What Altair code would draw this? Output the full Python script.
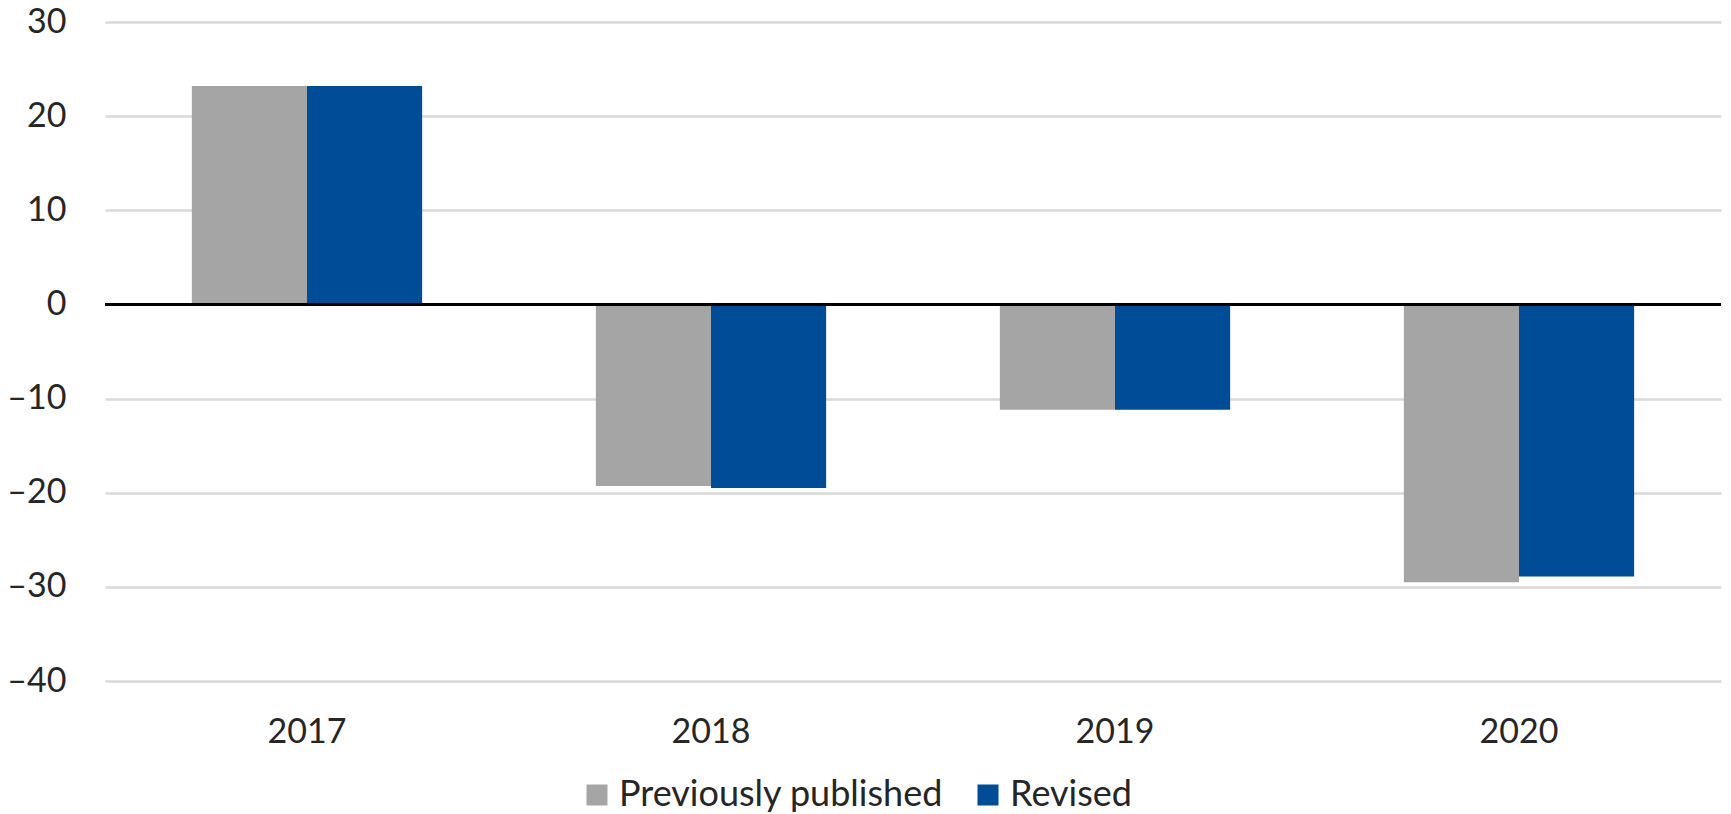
import altair as alt
import pandas as pd

years = ["2017", "2018", "2019", "2020"]
series = ["Previously published", "Revised"]
previously_published = [23.2, -19.3, -11.2, -29.5]
revised = [23.2, -19.5, -11.2, -28.9]
y_ticks = [-40, -30, -20, -10, 0, 10, 20, 30]

rows = []
for i, y in enumerate(years):
    rows.append({"year": y, "series": series[0], "value": previously_published[i]})
    rows.append({"year": y, "series": series[1], "value": revised[i]})
df = pd.DataFrame(rows)

FONT = "Lato"
FS = 34

bars = alt.Chart(df).mark_bar().encode(
    x=alt.X("year:N", sort=years, title=None,
            scale=alt.Scale(paddingInner=0.43, paddingOuter=0.215),
            axis=alt.Axis(labelAngle=0, ticks=False, domain=False, grid=False, labelPadding=34,
                          labelFontSize=FS, labelFont=FONT, labelColor="#262626")),
    xOffset=alt.XOffset("series:N", sort=series),
    y=alt.Y("value:Q", title=None,
            scale=alt.Scale(domain=[-40, 30], nice=False),
            axis=alt.Axis(values=y_ticks, ticks=False, domain=False, labelPadding=39,
                          labelExpr="datum.value < 0 ? '\u2013' + abs(datum.value) : '' + datum.value",
                          labelFontSize=FS, labelFont=FONT, labelColor="#262626",
                          gridColor="#d9d9d9", gridWidth=2.5)),
    color=alt.Color("series:N", sort=series,
                    scale=alt.Scale(domain=series, range=["#a5a5a5", "#004c97"]),
                    legend=alt.Legend(title=None, orient="none", direction="horizontal",
                                      legendX=474, legendY=755,
                                      symbolType="square", symbolSize=441,
                                      symbolStrokeWidth=0, labelOffset=4,
                                      columnPadding=26, labelLimit=1000,
                                      labelFontSize=36, labelFont=FONT,
                                      labelColor="#262626")),
)

zero = alt.Chart(pd.DataFrame({"v": [0]})).mark_rule(color="black", strokeWidth=3).encode(
    y="v:Q"
)

chart = alt.layer(bars, zero).properties(
    width=1616, height=659,
    padding={"left": 97, "top": 14, "right": 2, "bottom": 133},
    autosize=alt.AutoSizeParams(type="none"),
    background="white",
).configure_view(stroke=None)

chart.save("out.html", embed_options={"renderer": "svg", "actions": False})
